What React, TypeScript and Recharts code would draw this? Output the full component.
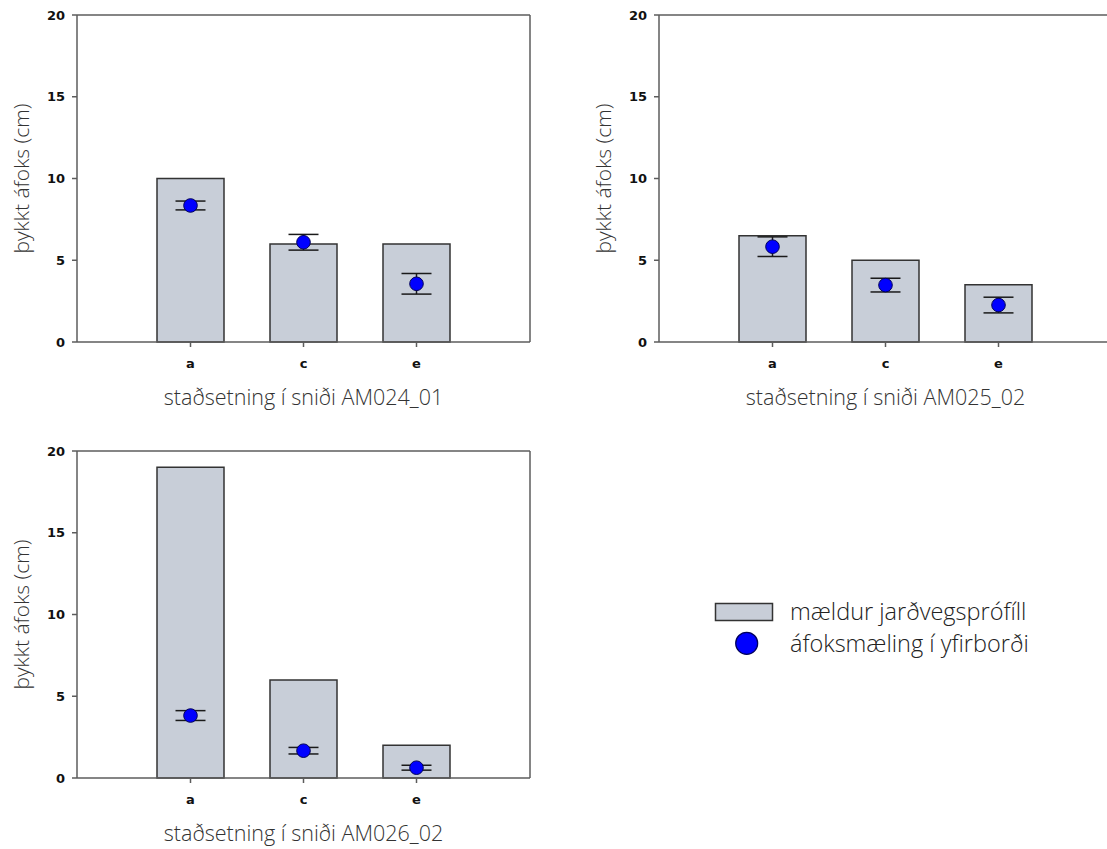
import { ComposedChart, Bar, Line, XAxis, YAxis, ErrorBar } from 'recharts';

// staðsetningar í sniði
const categories = ['a', 'c', 'e'];
const yTicks = [0, 5, 10, 15, 20];

// mældur jarðvegsprófíll (cm)
const profileAM024 = [10, 6, 6];
const profileAM025 = [6.5, 5, 3.5];
const profileAM026 = [19, 6, 2];

// áfoksmæling í yfirborði (cm) og skekkja
const surfaceAM024 = [8.35, 6.1, 3.56];
const errAM024 = [0.27, 0.48, 0.63];
const surfaceAM025 = [5.83, 3.48, 2.26];
const errAM025 = [0.6, 0.42, 0.48];
const surfaceAM026 = [3.82, 1.67, 0.63];
const errAM026 = [0.3, 0.2, 0.15];

const BAR_FILL = '#c8ced8';
const AXIS = '#5c5c5c';
const TITLE_FONT = '"Open Sans", Lato, sans-serif';
const TICK_STYLE = { fill: '#111', fontFamily: '"DejaVu Sans"', fontWeight: 'bold', fontSize: 13 };

const build = (profile: number[], surface: number[], err: number[]) =>
  categories.map((cat, i) => ({ cat, profile: profile[i], surface: surface[i], err: err[i] }));

interface PanelProps {
  profile: number[];
  surface: number[];
  err: number[];
  title: string;
  left: number;
  top: number;
}

const Panel = ({ profile, surface, err, title, left, top }: PanelProps) => {
  const data = build(profile, surface, err);
  return (
    <div style={{ position: 'absolute', left, top }}>
      <ComposedChart width={560} height={420} data={data} margin={{ top: 14, right: 29, bottom: 0, left: 0 }}>
        <XAxis
          dataKey="cat"
          padding={{ left: 57, right: 57 }}
          height={78}
          tickSize={5}
          tickMargin={12}
          stroke={AXIS}
          strokeWidth={1.5}
          tick={TICK_STYLE}
          label={{ value: title, position: 'insideBottom', offset: 15, fill: '#333', fontSize: 21.5, fontFamily: TITLE_FONT, fontWeight: 300 }}
        />
        <XAxis xAxisId="t" dataKey="cat" orientation="top" height={1} tick={false} tickLine={false} stroke={AXIS} strokeWidth={1.5} />
        <YAxis
          domain={[0, 20]}
          ticks={yTicks}
          width={77}
          tickSize={5}
          tickMargin={7}
          stroke={AXIS}
          strokeWidth={1.5}
          tick={TICK_STYLE}
          label={{ value: 'þykkt áfoks (cm)', angle: -90, position: 'insideLeft', offset: 22, fill: '#333', fontSize: 21, fontFamily: TITLE_FONT, fontWeight: 300, style: { textAnchor: 'middle' } }}
        />
        <YAxis yAxisId="r" orientation="right" width={1} tick={false} tickLine={false} stroke={AXIS} strokeWidth={1.5} />
        <Bar dataKey="profile" barSize={67} fill={BAR_FILL} stroke="#333" strokeWidth={1.5} isAnimationActive={false} />
        <Line
          dataKey="surface"
          stroke="none"
          dot={{ r: 6.8, fill: '#0000ff', stroke: '#00005a', strokeWidth: 1 }}
          activeDot={false}
          isAnimationActive={false}
        >
          <ErrorBar dataKey="err" direction="y" width={15} stroke="#1a1a1a" strokeWidth={1.5} />
        </Line>
      </ComposedChart>
    </div>
  );
};

const App = () => {
  return (
    <div style={{ position: 'absolute', left: 0, top: 0, width: 1107, height: 849, overflow: 'hidden', background: '#fff' }}>
      <Panel profile={profileAM024} surface={surfaceAM024} err={errAM024} title="staðsetning í sniði AM024_01" left={0} top={0} />
      <Panel profile={profileAM025} surface={surfaceAM025} err={errAM025} title="staðsetning í sniði AM025_02" left={582} top={0} />
      <Panel profile={profileAM026} surface={surfaceAM026} err={errAM026} title="staðsetning í sniði AM026_02" left={0} top={436} />

      <svg style={{ position: 'absolute', left: 700, top: 590 }} width={400} height={80}>
        <rect x={15.5} y={13.5} width={57} height={17} fill={BAR_FILL} stroke="#333" strokeWidth={1.5} />
        <circle cx={46.7} cy={53.3} r={11} fill="#0000ff" stroke="#00005a" strokeWidth={1.2} />
        <text x={90} y={30} fontSize={23.5} fontFamily={TITLE_FONT} fontWeight={300} fill="#222">mældur jarðvegsprófíll</text>
        <text x={90} y={62} fontSize={23.5} fontFamily={TITLE_FONT} fontWeight={300} fill="#222">áfoksmæling í yfirborði</text>
      </svg>
    </div>
  );
};

export default App;
